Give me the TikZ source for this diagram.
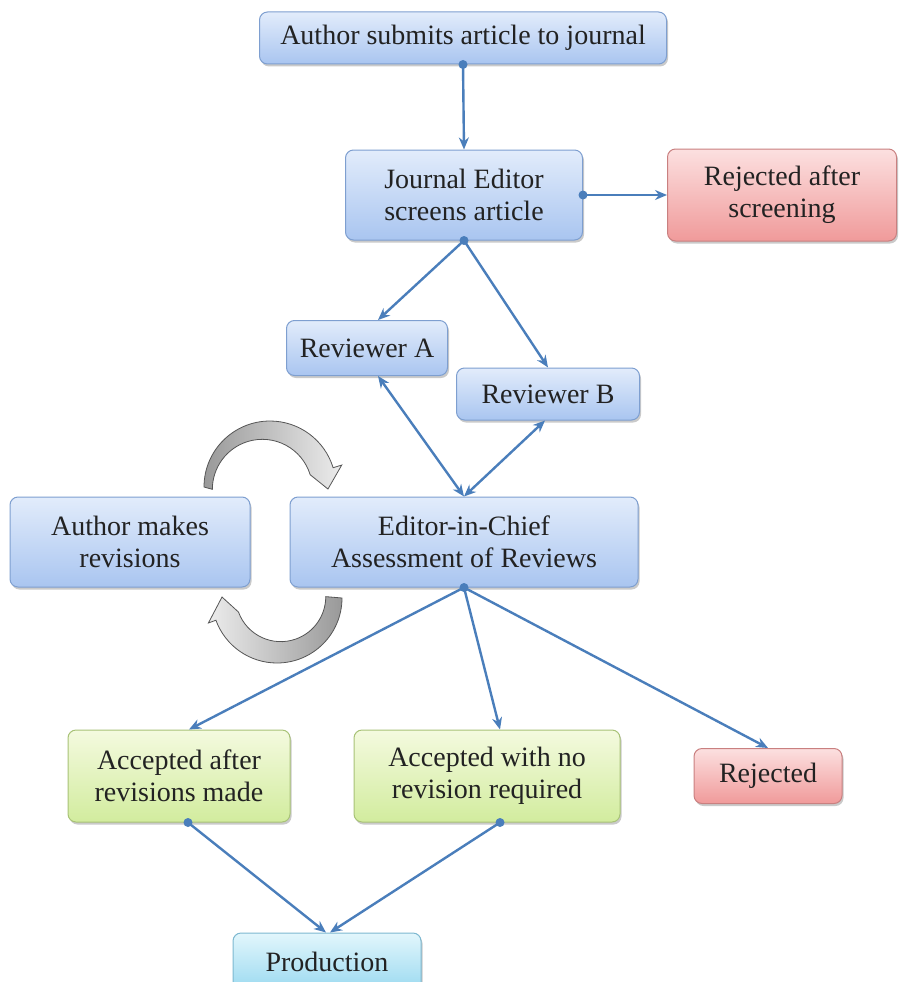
\documentclass[tikz,border=0pt]{standalone}
\usepackage{fontspec}
\setmainfont{Liberation Serif}
\usetikzlibrary{shadows,arrows.meta}
\definecolor{txt}{HTML}{222222}
\definecolor{conn}{HTML}{4A7EBB}
\definecolor{bluetop}{HTML}{E2ECFB}
\definecolor{bluebot}{HTML}{A9C5F0}
\definecolor{blueline}{HTML}{7E9FD0}
\definecolor{redtop}{HTML}{FCE0E0}
\definecolor{redbot}{HTML}{F09A9A}
\definecolor{redline}{HTML}{C98080}
\definecolor{greentop}{HTML}{F4FADF}
\definecolor{greenbot}{HTML}{D2EC9E}
\definecolor{greenline}{HTML}{A8C277}
\definecolor{cyantop}{HTML}{E2F6FC}
\definecolor{cyanbot}{HTML}{9AD9F0}
\definecolor{cyanline}{HTML}{7DB8D0}
\definecolor{arrline}{HTML}{555555}
\tikzset{
  box/.style={rounded corners=8pt, align=center, text=txt, inner sep=0pt,
    font=\fontsize{28}{32}\selectfont, line width=1pt,
    drop shadow={opacity=0.35, shadow xshift=1.5pt, shadow yshift=-2.5pt, fill=black!60}},
  bluebox/.style={box, draw=blueline, top color=bluetop, bottom color=bluebot},
  redbox/.style={box, draw=redline, top color=redtop, bottom color=redbot},
  greenbox/.style={box, draw=greenline, top color=greentop, bottom color=greenbot},
  cyanbox/.style={box, draw=cyanline, top color=cyantop, bottom color=cyanbot},
  conn/.style={draw=conn, line width=2.4pt, -{Stealth[length=12pt,width=10pt]}},
  conn2/.style={draw=conn, line width=2.4pt, {Stealth[length=12pt,width=10pt]}-{Stealth[length=12pt,width=10pt]}},
  dot/.style={fill=conn},
  curvarr/.style={draw=arrline, line width=0.8pt}
}
\begin{document}
\begin{tikzpicture}[x=1pt,y=-1pt]
\useasboundingbox (0,0) rectangle (898,982);
\clip (0,0) rectangle (898,982);

% nodes
\node[bluebox, minimum width=407pt, minimum height=52pt] (sub) at (463,38) {Author submits article to journal};
\node[bluebox, minimum width=237pt, minimum height=90pt] (je) at (464,195) {Journal Editor\\screens article};
\node[redbox, minimum width=229pt, minimum height=92pt] (rs) at (782,195) {Rejected after\\screening};
\node[bluebox, minimum width=161pt, minimum height=55pt] (ra) at (367,348) {Reviewer A};
\node[bluebox, minimum width=183pt, minimum height=52pt] (rb) at (548,394) {Reviewer B};
\node[bluebox, minimum width=348pt, minimum height=90pt] (eic) at (464,542) {Editor-in-Chief\\Assessment of Reviews};
\node[bluebox, minimum width=240pt, minimum height=90pt] (amr) at (130,542) {Author makes\\revisions};
\node[greenbox, minimum width=222pt, minimum height=92pt] (aa) at (179,776) {Accepted after\\revisions made};
\node[greenbox, minimum width=266pt, minimum height=92pt] (an) at (487,776) {Accepted with no\\revision required};
\node[redbox, minimum width=148pt, minimum height=55pt] (rj) at (768,776) {Rejected};
\node[cyanbox, minimum width=188pt, minimum height=58pt] (pr) at (327,962) {Production};

% reference coordinates
\coordinate (raT) at ([xshift=11pt]ra.north);
\coordinate (raB) at ([xshift=11pt]ra.south);
\coordinate (rbT) at (rb.north);
\coordinate (rbB) at ([xshift=-3pt]rb.south);
\coordinate (aaT) at ([xshift=10pt]aa.north);
\coordinate (aaB) at ([xshift=9pt]aa.south);
\coordinate (anT) at ([xshift=13pt]an.north);
\coordinate (anB) at ([xshift=13pt]an.south);
\coordinate (prT1) at ([xshift=-1pt]pr.north);
\coordinate (prT2) at ([xshift=3pt]pr.north);

% connectors
\draw[conn] (sub.south) -- (je.north);
\draw[conn] (je.east) -- (rs.west);
\draw[conn] (je.south) -- (raT);
\draw[conn] (je.south) -- (rbT);
\draw[conn2] (raB) -- (eic.north);
\draw[conn2] (rbB) -- (eic.north);
\draw[conn] (eic.south) -- (aaT);
\draw[conn] (eic.south) -- (anT);
\draw[conn] (eic.south) -- (rj.north);
\draw[conn] (aaB) -- (prT1);
\draw[conn] (anB) -- (prT2);

% start dots
\foreach \p in {sub.south, je.east, je.south, eic.south, aaB, anB}
  \fill[dot] (\p) circle (4.5pt);

% curved arrows (angles in pixel frame, y down)
\coordinate (c1) at (270,487);
\path[curvarr, left color=gray!80, right color=gray!15]
  ([shift={(180:66)}]c1) arc[start angle=180, end angle=343, radius=66]
  -- ([shift={(343:75)}]c1)
  -- ([shift={(362:58)}]c1)
  -- ([shift={(343:42)}]c1)
  arc[start angle=343, end angle=180, radius=50] -- cycle;
\coordinate (c2) at (277,598);
\path[curvarr, left color=gray!15, right color=gray!80]
  ([shift={(0:65)}]c2) arc[start angle=0, end angle=160, radius=65]
  -- ([shift={(160:73)}]c2)
  -- ([shift={(181:55)}]c2)
  -- ([shift={(160:41)}]c2)
  arc[start angle=160, end angle=0, radius=45] -- cycle;
\end{tikzpicture}
\end{document}
